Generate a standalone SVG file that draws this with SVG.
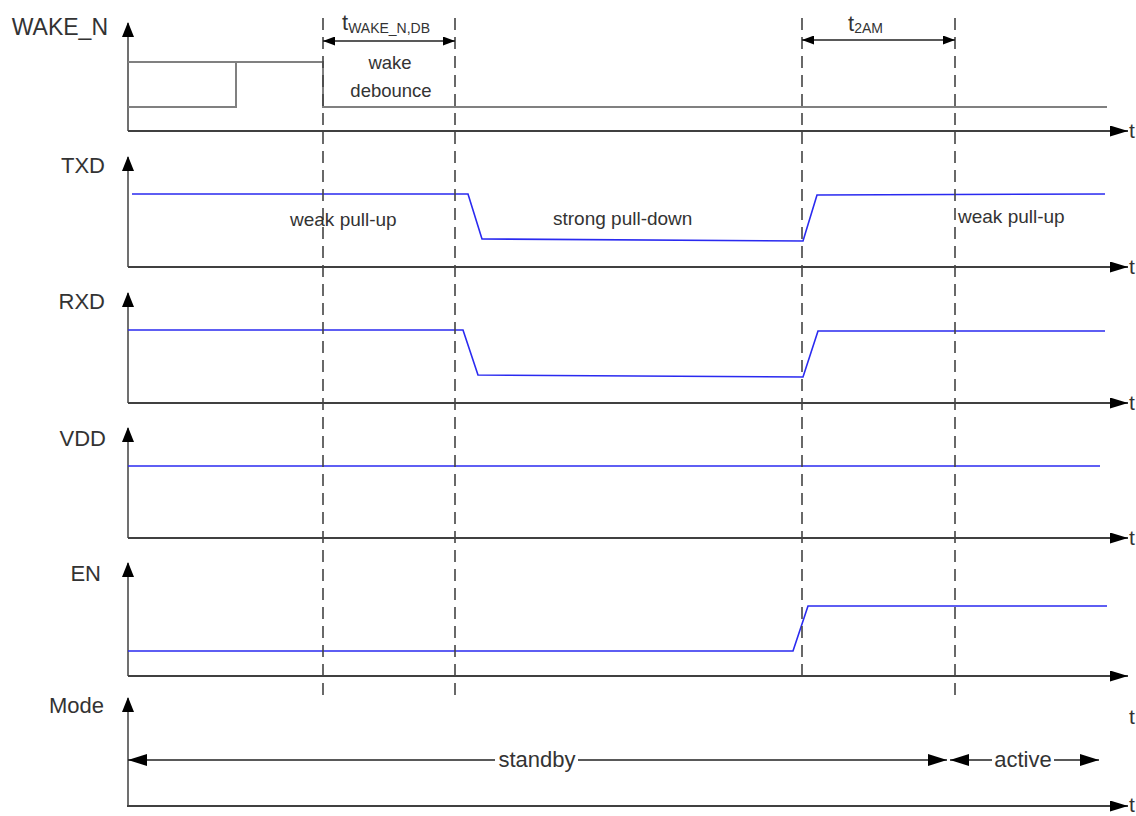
<svg xmlns="http://www.w3.org/2000/svg" width="1136" height="816" viewBox="0 0 1136 816">
<style>
  text { font-family: "Liberation Sans", Arial, sans-serif; fill: #333; }
  .lbl { font-size: 22px; text-anchor: end; }
  .t { font-size: 22px; }
  .tr { font-size: 21px; }
  .note { font-size: 19px; }
  .yax { stroke: #707070; stroke-width: 2; fill: none; marker-end: url(#ahy); }
  .xax { stroke: #404040; stroke-width: 2; fill: none; marker-end: url(#ahx); }
  .sig { stroke: #2a2af0; stroke-width: 1.6; fill: none; }
  .sigg { stroke: #808080; stroke-width: 2; fill: none; }
  .dash { stroke: #444; stroke-width: 1.6; stroke-dasharray: 12 7; fill: none; }
  .dim { stroke: #222; stroke-width: 1.5; fill: none; marker-start: url(#ahd); marker-end: url(#ahd); }
  .mode { stroke: #222; stroke-width: 1.6; fill: none; }
</style>
<defs>
  <marker id="ahy" markerUnits="userSpaceOnUse" markerWidth="15" markerHeight="12" refX="14" refY="6" orient="auto"><path d="M0,0 L15,6 L0,12 z" fill="#000"/></marker>
  <marker id="ahx" markerUnits="userSpaceOnUse" markerWidth="18" markerHeight="11" refX="18" refY="5.5" orient="auto"><path d="M0,0 L18,5.5 L0,11 z" fill="#000"/></marker>
  <marker id="ahd" markerUnits="userSpaceOnUse" markerWidth="12" markerHeight="9" refX="12" refY="4.5" orient="auto-start-reverse"><path d="M0,0 L12,4.5 L0,9 z" fill="#000"/></marker>
  <marker id="ahm" markerUnits="userSpaceOnUse" markerWidth="19" markerHeight="12" refX="19" refY="6" orient="auto"><path d="M0,0 L19,6 L0,12 z" fill="#000"/></marker>
</defs>

<g id="wake_n">
  <text class="lbl" x="108" y="35" style="font-size:23px">WAKE_N</text>
  <path class="yax" d="M128,131 V23"/>
  <path class="xax" d="M128,131 H1128"/>
  <text class="tr" x="1129" y="138">t</text>
  <path class="sigg" d="M128,62 H323 V107 H1107"/>
  <path class="sigg" d="M128,107 H236 V62"/>
</g>

<g id="txd">
  <text class="lbl" x="105" y="173">TXD</text>
  <path class="yax" d="M128,267 V157"/>
  <path class="xax" d="M128,267 H1128"/>
  <text class="tr" x="1129" y="274">t</text>
  <path class="sig" d="M132,194 H468 L482,239 L803,241 L817,195 L1105,194"/>
</g>

<g id="rxd">
  <text class="lbl" x="105" y="309">RXD</text>
  <path class="yax" d="M128,403 V293"/>
  <path class="xax" d="M128,403 H1128"/>
  <text class="tr" x="1129" y="410">t</text>
  <path class="sig" d="M128,330 H463 L478,375 L803,377 L818,331 H1105"/>
</g>

<g id="vdd">
  <text class="lbl" x="106" y="446">VDD</text>
  <path class="yax" d="M128,538 V428"/>
  <path class="xax" d="M128,538 H1128"/>
  <text class="tr" x="1129" y="545">t</text>
  <path class="sig" d="M128,466 H1100"/>
</g>

<g id="en">
  <text class="lbl" x="101" y="581">EN</text>
  <path class="yax" d="M128,676 V563"/>
  <path class="xax" d="M128,676 H1128"/>
  <text class="tr" x="1129" y="724">t</text>
  <path class="sig" d="M128,651 H793 L808,606 H1107"/>
</g>

<g id="mode">
  <text class="lbl" x="104" y="713">Mode</text>
  <path class="yax" d="M128,807 V698"/>
  <path class="xax" d="M127,806 H1128"/>
  <text class="tr" x="1129" y="812">t</text>
  <path class="mode" d="M495,760 H128" marker-end="url(#ahm)"/>
  <path class="mode" d="M578,760 H947" marker-end="url(#ahm)"/>
  <text x="537" y="767" font-size="22" text-anchor="middle">standby</text>
  <path class="mode" d="M992,760 H950" marker-end="url(#ahm)"/>
  <path class="mode" d="M1054,760 H1099" marker-end="url(#ahm)"/>
  <text x="1023" y="767" font-size="22" text-anchor="middle">active</text>
</g>

<g id="connectors">
  <path class="dash" d="M323,18 V697"/>
  <path class="dash" d="M455,18 V697"/>
  <path class="dash" d="M802,18 V676"/>
  <path class="dash" d="M955,18 V697"/>
  <path class="dim" d="M323,41 H455"/>
  <path class="dim" d="M802,40 H955"/>
</g>

<g id="labels">
  <text class="t" x="342" y="30">t<tspan font-size="14" dy="3">WAKE_N,DB</tspan></text>
  <text class="t" x="848" y="31">t<tspan font-size="14" dy="2">2AM</tspan></text>
  <text class="note" x="390" y="69" text-anchor="middle" style="font-size:18.5px">wake</text>
  <text class="note" x="391" y="97" text-anchor="middle" style="font-size:18.5px">debounce</text>
  <text class="note" x="290" y="226">weak pull-up</text>
  <text class="note" x="553" y="225">strong pull-down</text>
  <text class="note" x="958" y="223">weak pull-up</text>
</g>
</svg>
